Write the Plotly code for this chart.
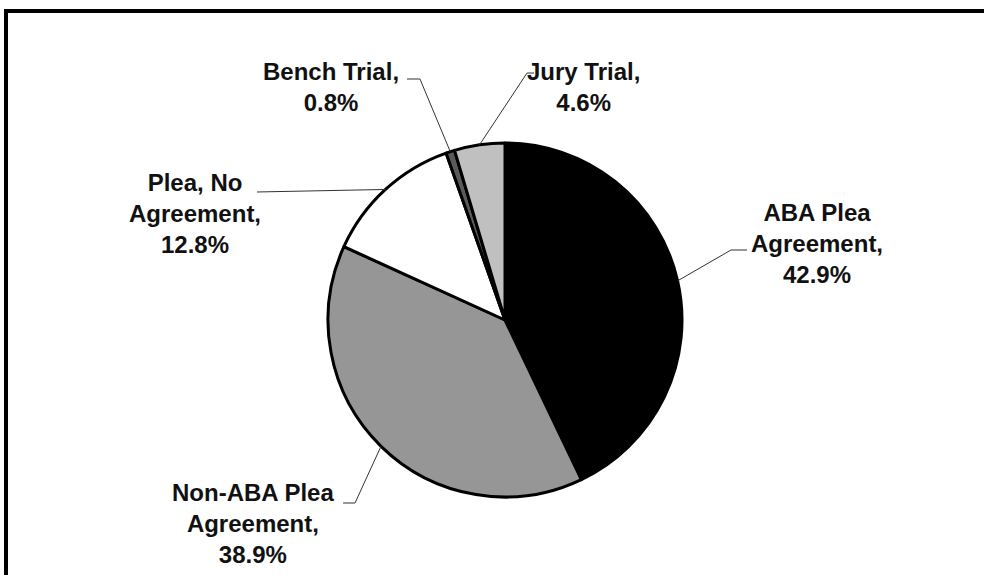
import math
import plotly.graph_objects as go

# data
categories = ["ABA Plea Agreement", "Non-ABA Plea Agreement", "Plea, No Agreement",
              "Bench Trial", "Jury Trial"]
shares = [42.9, 38.9, 12.8, 0.8, 4.6]
colors = ["#000000", "#969696", "#ffffff", "#5a5a5a", "#c0c0c0"]
label_text = ["ABA Plea<br>Agreement,<br>42.9%",
              "Non-ABA Plea<br>Agreement,<br>38.9%",
              "Plea, No<br>Agreement,<br>12.8%",
              "Bench Trial,<br>0.8%",
              "Jury Trial,<br>4.6%"]

W, H = 984, 575
CX, CY, R = 505, 320, 177  # pie centre / radius in pixels

# label block centres and leader elbows (pixels)
label_pos = [(817, 243), (253, 523), (195, 213), (331, 87), (583, 87)]
leader_pts = [[(731, 250), (747, 250)],
              [(355, 503), (343, 503)],
              [(257, 192)],
              [(420, 79), (407, 79)],
              [(527, 73), (534, 73)]]


def px(x, y):
    return x / W, 1 - y / H


fig = go.Figure(go.Pie(
    labels=categories,
    values=shares,
    sort=False,
    direction="clockwise",
    rotation=0,
    marker=dict(colors=colors, line=dict(color="#000000", width=3)),
    textinfo="none",
    hoverinfo="label+percent",
    showlegend=False,
    domain=dict(x=[(CX - R) / W, (CX + R) / W], y=[(H - CY - R) / H, (H - CY + R) / H]),
))

shapes = []
annotations = []
cum = 0
total = sum(shares)
for i, v in enumerate(shares):
    mid = (cum + v / 2) / total * 2 * math.pi
    cum += v
    ax, ay = CX + R * math.sin(mid), CY - R * math.cos(mid)
    pts = [(ax, ay)] + leader_pts[i]
    path = "M " + " L ".join("%.4f,%.4f" % px(x, y) for x, y in pts)
    shapes.append(dict(type="path", path=path, xref="paper", yref="paper",
                       line=dict(color="#333333", width=1)))
    lx, ly = px(*label_pos[i])
    annotations.append(dict(x=lx, y=ly, xref="paper", yref="paper", text="<b>%s</b>" % label_text[i],
                            showarrow=False, xanchor="center", yanchor="middle", align="center",
                            font=dict(family="Liberation Sans, Arial", size=24, color="#111111")))

# outer frame: only top and left edges fall inside the view
frame = [(6, H), (6, 11), (W, 11)]
shapes.append(dict(type="path", xref="paper", yref="paper",
                   path="M " + " L ".join("%.4f,%.4f" % px(x, y) for x, y in frame),
                   line=dict(color="#000000", width=4)))

fig.update_layout(
    width=W, height=H,
    margin=dict(l=0, r=0, t=0, b=0),
    paper_bgcolor="#ffffff",
    plot_bgcolor="#ffffff",
    shapes=shapes,
    annotations=annotations,
)

fig.write_html("out.html", config={"displayModeBar": False},
               post_script="document.body.style.margin='0';document.body.style.overflow='hidden';")
